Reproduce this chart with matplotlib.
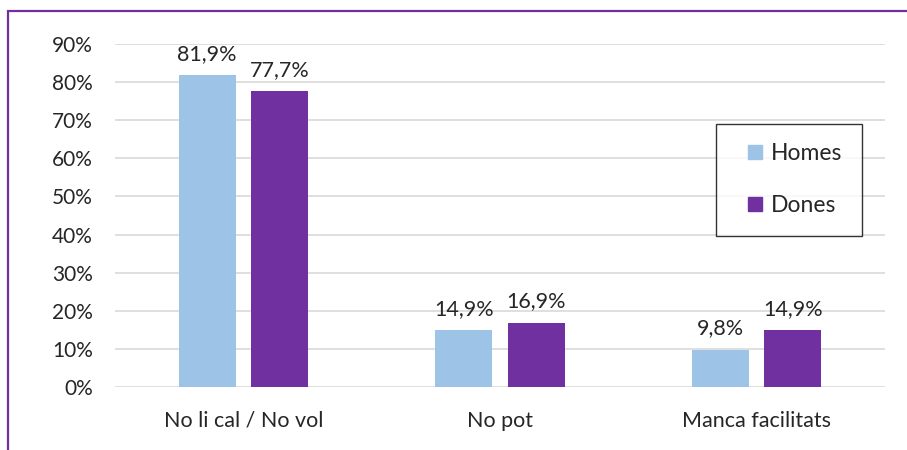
import matplotlib
matplotlib.use("Agg")
import matplotlib.pyplot as plt
from matplotlib.patches import Rectangle
from matplotlib.lines import Line2D
import numpy as np

categories = ["No li cal / No vol", "No pot", "Manca facilitats"]
homes = [81.9, 14.9, 9.8]
dones = [77.7, 16.9, 14.9]
series_names = ["Homes", "Dones"]
yticks = [0, 10, 20, 30, 40, 50, 60, 70, 80, 90]

c_homes = "#9dc3e6"
c_dones = "#7030a0"
txt = "#262626"

plt.rcParams["font.family"] = ["Lato", "DejaVu Sans"]
plt.rcParams["font.size"] = 15

W, H = 907, 450
fig = plt.figure(figsize=(W / 100, H / 100), dpi=100)
ax = fig.add_axes([115 / W, 1 - 387 / H, 770 / W, 343 / H])

x = np.arange(len(categories))
bw = 0.222
off = 0.141
b1 = ax.bar(x - off, homes, bw, color=c_homes, zorder=3)
b2 = ax.bar(x + off, dones, bw, color=c_dones, zorder=3)

for bars, vals in ((b1, homes), (b2, dones)):
    for b, v in zip(bars, vals):
        ax.annotate(f"{v:.1f}%".replace(".", ","),
                    (b.get_x() + b.get_width() / 2, v),
                    xytext=(0, 8), textcoords="offset points",
                    ha="center", va="bottom", color=txt, fontsize=15.5)

ax.set_xlim(-0.5, len(categories) - 0.5)
ax.set_ylim(0, 90)
ax.set_yticks(yticks)
ax.set_yticklabels([f"{t}%" for t in yticks])
ax.set_xticks(x)
ax.set_xticklabels(categories, fontsize=15.5)
ax.tick_params(length=0, colors=txt)
ax.tick_params(axis="y", pad=16, labelsize=15)
ax.tick_params(axis="x", pad=17)
ax.grid(axis="y", color="#d9d9d9", lw=1.2, zorder=0)
for s in ax.spines.values():
    s.set_visible(False)

handles = [Line2D([], [], ls="none", marker="s", markersize=10,
                  markerfacecolor=c, markeredgecolor=c)
           for c in (c_homes, c_dones)]
leg = ax.legend(handles, series_names, loc="upper left",
                bbox_to_anchor=(716 / W, 1 - 124 / H),
                bbox_transform=fig.transFigure, frameon=True, fancybox=False,
                edgecolor="#000000", handlelength=1.7,
                handletextpad=-0.15, labelspacing=1.35, borderpad=0.85,
                borderaxespad=0, fontsize=16.5)
leg.get_frame().set_linewidth(1.0)
for t in leg.get_texts():
    t.set_color(txt)

# purple frame, only top and left edges fall inside the image
fig.patches.append(Rectangle((8 / W, -0.2), 1.2, 1 - 11 / H + 0.2,
                             transform=fig.transFigure, fill=False,
                             edgecolor="#7030a0", lw=1.6))

fig.savefig("out.png", dpi=100)
